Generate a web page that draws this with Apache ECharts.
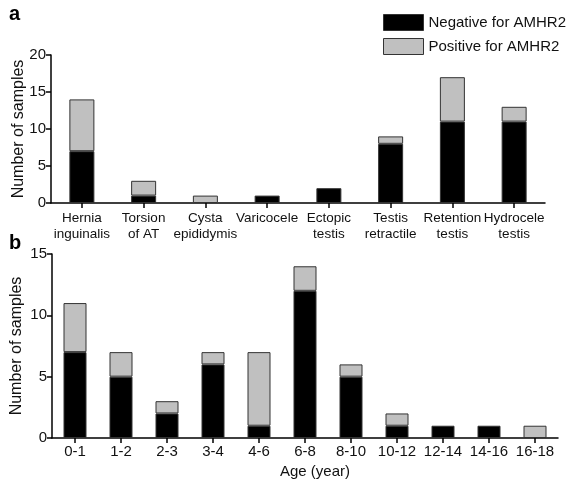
<!DOCTYPE html>
<html><head><meta charset="utf-8">
<script src="https://cdn.jsdelivr.net/npm/echarts@6/dist/echarts.min.js"></script>
<style>html,body{margin:0;padding:0;background:#fff}#c{width:573px;height:479px}</style>
</head><body><div id="c"></div>
<script>
const diagnoses = ['Hernia\ninguinalis','Torsion\nof AT','Cysta\nepididymis','Varicocele','Ectopic\ntestis','Testis\nretractile','Retention\ntestis','Hydrocele\ntestis'];
const diagNegative = [7,1,0,1,2,8,11,11];
const diagPositive = [7,2,1,0,0,1,6,2];
const ages = ['0-1','1-2','2-3','3-4','4-6','6-8','8-10','10-12','12-14','14-16','16-18'];
const ageNegative = [7,5,2,6,1,12,5,1,1,1,0];
const agePositive = [4,2,1,1,6,2,1,1,0,0,1];
const yTicksA = [0,5,10,15,20];
const yTicksB = [0,5,10,15];

const FONT = 'Liberation Sans, Arial, sans-serif';
const nz = a => a.map(v => v === 0 ? null : v);
const chart = echarts.init(document.getElementById('c'), null, {renderer:'canvas'});
const axisLine = {show:true, lineStyle:{color:'#000', width:1.5}};
const tick = {show:true, length:5, lineStyle:{color:'#000', width:1.5}};
const lbl = {color:'#111', fontSize:14, fontFamily:FONT};
const item = (c) => ({color:c, borderColor:'#333', borderWidth:1});
const yName = {fontSize:16, color:'#111', fontFamily:FONT};
chart.setOption({
  animation:false,
  textStyle:{fontFamily:FONT},
  legend:{
    orient:'vertical', left:378, top:9, itemWidth:40, itemHeight:16, itemGap:7,
    icon:'rect',
    textStyle:{fontSize:15, color:'#111', fontFamily:FONT},
    data:[
      {name:'Negative for AMHR2', itemStyle:{color:'#000', borderColor:'#333', borderWidth:1}},
      {name:'Positive for AMHR2', itemStyle:{color:'#c0c0c0', borderColor:'#333', borderWidth:1}}
    ]
  },
  graphic:[
    {type:'text', left:9, top:4, style:{text:'a', fontSize:20, fontWeight:'bold', fill:'#000', fontFamily:FONT}},
    {type:'text', left:9, top:233, style:{text:'b', fontSize:20, fontWeight:'bold', fill:'#000', fontFamily:FONT}}
  ],
  grid:[
    {left:51, top:55, width:494, height:148, outerBoundsMode:'none', containLabel:false},
    {left:52, top:254, width:506, height:184, outerBoundsMode:'none', containLabel:false}
  ],
  xAxis:[
    {type:'category', gridIndex:0, data:diagnoses, axisLine, axisTick:{...tick, alignWithLabel:true},
     axisLabel:{...lbl, fontSize:13.5, margin:7, lineHeight:16, interval:0, verticalAlign:'top'}},
    {type:'category', gridIndex:1, data:ages, axisLine, axisTick:{...tick, alignWithLabel:true},
     axisLabel:{...lbl, fontSize:15, margin:6, interval:0},
     name:'Age (year)', nameLocation:'middle', nameGap:26,
     nameTextStyle:{fontSize:15, color:'#111', fontFamily:FONT, padding:[0,0,0,20]}}
  ],
  yAxis:[
    {type:'value', gridIndex:0, min:yTicksA[0], max:yTicksA[yTicksA.length-1], interval:5, axisLine, axisTick:tick, splitLine:{show:false},
     axisLabel:{...lbl, fontSize:15, margin:5},
     name:'Number of samples', nameLocation:'middle', nameGap:24, nameMoveOverlap:false, nameTextStyle:yName},
    {type:'value', gridIndex:1, min:yTicksB[0], max:yTicksB[yTicksB.length-1], interval:5, axisLine, axisTick:tick, splitLine:{show:false},
     axisLabel:{...lbl, fontSize:15, margin:5},
     name:'Number of samples', nameLocation:'middle', nameGap:27, nameMoveOverlap:false, nameTextStyle:yName}
  ],
  series:[
    {name:'Negative for AMHR2', type:'bar', xAxisIndex:0, yAxisIndex:0, stack:'a', data:nz(diagNegative), barWidth:25, itemStyle:item('#000')},
    {name:'Positive for AMHR2', type:'bar', xAxisIndex:0, yAxisIndex:0, stack:'a', data:nz(diagPositive), barWidth:25, itemStyle:item('#c0c0c0')},
    {name:'Negative for AMHR2', type:'bar', xAxisIndex:1, yAxisIndex:1, stack:'b', data:nz(ageNegative), barWidth:23, itemStyle:item('#000')},
    {name:'Positive for AMHR2', type:'bar', xAxisIndex:1, yAxisIndex:1, stack:'b', data:nz(agePositive), barWidth:23, itemStyle:item('#c0c0c0')}
  ]
});
</script></body></html>
